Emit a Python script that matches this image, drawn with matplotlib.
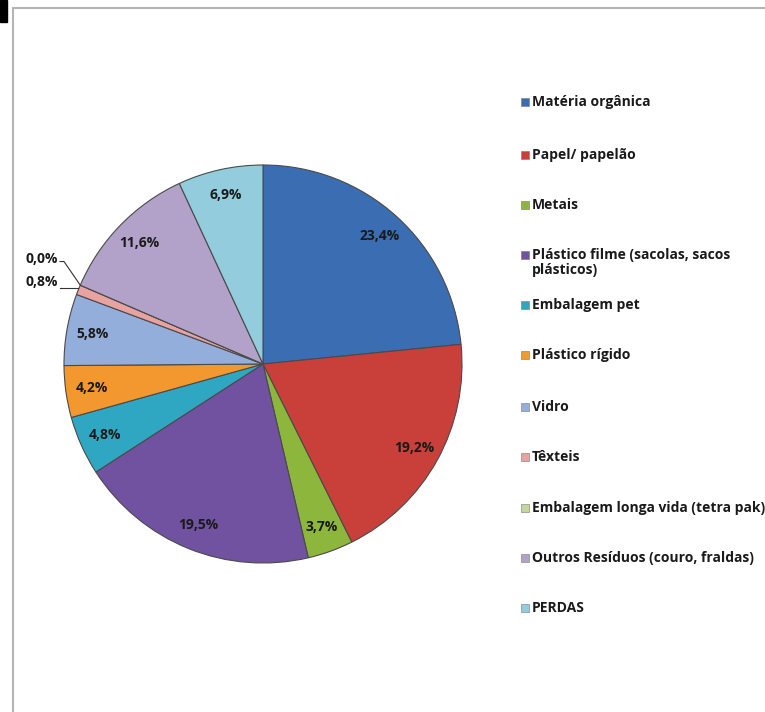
import numpy as np
import matplotlib.pyplot as plt
from matplotlib.patches import Rectangle

plt.rcParams['font.family'] = ['Open Sans', 'DejaVu Sans']

# data
categories = ["Matéria orgânica", "Papel/ papelão", "Metais",
              "Plástico filme (sacolas, sacos\nplásticos)", "Embalagem pet",
              "Plástico rígido", "Vidro", "Têxteis",
              "Embalagem longa vida (tetra pak)",
              "Outros Resíduos (couro, fraldas)", "PERDAS"]
values = [23.4, 19.2, 3.7, 19.5, 4.8, 4.2, 5.8, 0.8, 0.0, 11.6, 6.9]
colors = ["#3B6DB3", "#C9403B", "#8DB63C", "#7152A0", "#30A7C2",
          "#F3982F", "#93AEDB", "#E8A2A0", "#C3D69B", "#B2A2C9", "#92CCDD"]

fig = plt.figure(figsize=(7.65, 7.12), dpi=100)

# outer frame like the original screenshot
fig.patches.append(Rectangle((13 / 765, -0.1), 1.2, 1 - 8 / 712 + 0.1,
                             transform=fig.transFigure, fill=False,
                             edgecolor="#b5b5b5", linewidth=1.5))
fig.patches.append(Rectangle((0, 1 - 22 / 712), 7 / 765, 22 / 712,
                             transform=fig.transFigure, color="black"))

cx, cy, r = 263 / 765, 1 - 364 / 712, 199
ax = fig.add_axes([cx - r / 765, cy - r / 712, 2 * r / 765, 2 * r / 712])
wedges, _ = ax.pie(values, colors=colors, startangle=90, counterclock=False,
                   wedgeprops=dict(edgecolor="#4a4a4a", linewidth=0.8))
ax.set_xlim(-1, 1)
ax.set_ylim(-1, 1)
ax.set_aspect("equal")

# percentage labels
for w, v in zip(wedges, values):
    if v < 1:
        continue
    ang = np.deg2rad((w.theta1 + w.theta2) / 2)
    lab = ("%.1f%%" % v).replace(".", ",")
    d = 0.87
    ax.text(d * np.cos(ang), d * np.sin(ang), lab, ha="center", va="center",
            fontsize=10, fontweight="bold", color="#1a1a1a")

# small slices with leader lines
small = [(7, -1.03, 0.41, 0.38), (8, -1.03, 0.53, 0.515)]
for i, tx, ty, ly in small:
    w = wedges[i]
    ang = np.deg2rad(w.theta2 if values[i] == 0 else (w.theta1 + w.theta2) / 2)
    ex, ey = np.cos(ang), np.sin(ang)
    lab = ("%.1f%%" % values[i]).replace(".", ",")
    if values[i] == 0:
        ax.plot([tx + 0.01, tx + 0.03, ex], [ly, ly, ey], color="#333333",
                lw=0.8, clip_on=False)
    else:
        ax.plot([tx + 0.01, ex], [ly, ly], color="#333333",
                lw=0.8, clip_on=False)
    ax.text(tx, ty, lab, ha="right", va="center", fontsize=10,
            fontweight="bold", color="#1a1a1a", clip_on=False)

# legend
rows_y = [102, 155, 205, 255, 305, 355, 407, 457, 508, 558, 608]
for c, lab, y in zip(colors, categories, rows_y):
    fig.patches.append(Rectangle((521 / 765, 1 - (y + 4) / 712), 8 / 765, 8 / 712,
                                 transform=fig.transFigure, facecolor=c,
                                 edgecolor="#777777", linewidth=0.4))
    fig.text(532 / 765, 1 - (y - 7) / 712, lab, ha="left", va="top",
             fontsize=10, fontweight="bold", color="#1a1a1a", linespacing=1.1)

fig.savefig("out.png", dpi=100)
